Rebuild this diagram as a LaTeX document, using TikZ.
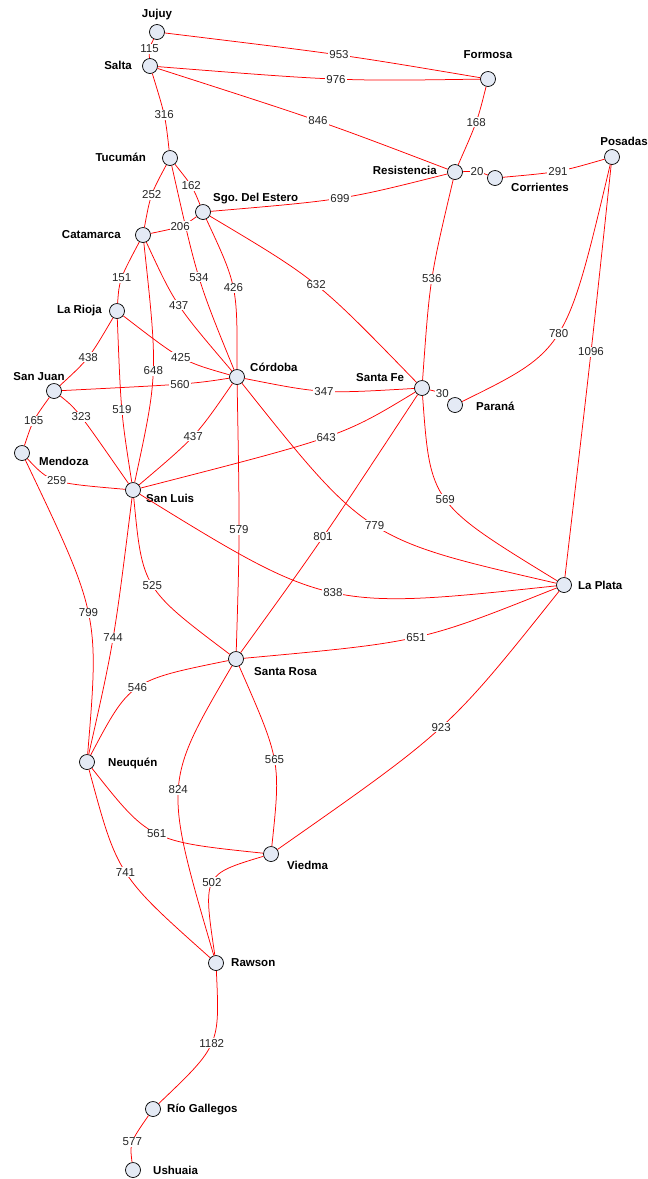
\documentclass[tikz,border=0pt]{standalone}
\usepackage{fontspec}
\setmainfont{Liberation Sans}
\usetikzlibrary{calc}
\definecolor{nodefill}{HTML}{E4EAF5}
\tikzset{
 city/.style={circle,draw=black,line width=0.7pt,fill=nodefill,minimum size=15pt,inner sep=0pt},
 cname/.style={font=\fontsize{11.5}{13}\selectfont\bfseries,inner sep=0pt},
 edge/.style={draw=red,line width=0.75pt},
 wl/.style={fill=white,inner sep=1pt,font=\fontsize{11.5}{13}\selectfont,text=black!85}
}
\newcommand{\roadedge}[4]{\draw[edge] (#1) .. controls ($1.33333*(#3)-0.166667*(#1)-0.166667*(#2)$) .. (#2) node[wl,pos=0.5]{#4};}
\frenchspacing
\begin{document}
\begin{tikzpicture}[x=1pt,y=-1pt]
\useasboundingbox[fill=white] (0,0) rectangle (648,1179);
% cities
\node[city] (jujuy) at (157,32) {};
\node[city] (salta) at (150,66) {};
\node[city] (formosa) at (488,79) {};
\node[city] (tucuman) at (170,158) {};
\node[city] (sgo) at (203,212) {};
\node[city] (catamarca) at (143,235) {};
\node[city] (rioja) at (117,311) {};
\node[city] (sanjuan) at (54,391) {};
\node[city] (cordoba) at (237,377) {};
\node[city] (mendoza) at (22,453) {};
\node[city] (sanluis) at (133,490) {};
\node[city] (resistencia) at (455,172) {};
\node[city] (corrientes) at (495,178) {};
\node[city] (posadas) at (612,157) {};
\node[city] (santafe) at (422,388) {};
\node[city] (parana) at (455,405) {};
\node[city] (laplata) at (564,585) {};
\node[city] (santarosa) at (236,659) {};
\node[city] (neuquen) at (87,762) {};
\node[city] (viedma) at (271,854) {};
\node[city] (rawson) at (216,963) {};
\node[city] (gallegos) at (153,1109) {};
\node[city] (ushuaia) at (133,1170) {};
% names
\node[cname] (jujuy-t) at (157,15) {Jujuy};
\node[cname,anchor=east] (salta-t) at (132,65) {Salta};
\node[cname] (formosa-t) at (488,55) {Formosa};
\node[cname,anchor=east] (tucuman-t) at (146,157) {Tucumán};
\node[cname,anchor=west] (sgo-t) at (213,199) {Sgo.\ Del Estero};
\node[cname,anchor=east] (catamarca-t) at (121,235) {Catamarca};
\node[cname,anchor=east] (rioja-t) at (102,311) {La Rioja};
\node[cname] (sanjuan-t) at (39,377) {San Juan};
\node[cname,anchor=west] (mendoza-t) at (39,461) {Mendoza};
\node[cname,anchor=west] (sanluis-t) at (146,498) {San Luis};
\node[cname,anchor=west] (cordoba-t) at (250,367) {Córdoba};
\node[cname,anchor=west] (santafe-t) at (356,378) {Santa Fe};
\node[cname,anchor=east] (resistencia-t) at (437,170) {Resistencia};
\node[cname,anchor=west] (corrientes-t) at (511,187) {Corrientes};
\node[cname] (posadas-t) at (624,141) {Posadas};
\node[cname,anchor=west] (parana-t) at (476,406) {Paraná};
\node[cname,anchor=west] (laplata-t) at (578,585) {La Plata};
\node[cname,anchor=west] (santarosa-t) at (254,672) {Santa Rosa};
\node[cname,anchor=west] (neuquen-t) at (108,763) {Neuquén};
\node[cname,anchor=west] (viedma-t) at (287,865) {Viedma};
\node[cname,anchor=west] (rawson-t) at (231,963) {Rawson};
\node[cname,anchor=west] (gallegos-t) at (167,1109) {Río Gallegos};
\node[cname,anchor=west] (ushuaia-t) at (153,1170) {Ushuaia};
% roads
\roadedge{jujuy}{formosa}{339,55}{953}
\roadedge{jujuy}{salta}{150,49}{115}
\roadedge{salta}{formosa}{336,79}{976}
\roadedge{salta}{resistencia}{318,121}{846}
\roadedge{salta}{tucuman}{164,115}{316}
\roadedge{formosa}{resistencia}{476,122}{168}
\roadedge{resistencia}{corrientes}{477,172}{20}
\roadedge{corrientes}{posadas}{558,171}{291}
\roadedge{resistencia}{sgo}{340,198}{699}
\roadedge{resistencia}{santafe}{432,279}{536}
\roadedge{posadas}{parana}{558,333}{780}
\roadedge{posadas}{laplata}{591,352}{1096}
\roadedge{tucuman}{catamarca}{152,195}{252}
\roadedge{tucuman}{sgo}{191,186}{162}
\roadedge{tucuman}{cordoba}{199,277}{534}
\roadedge{catamarca}{sgo}{180,226}{206}
\roadedge{sgo}{cordoba}{233,288}{426}
\roadedge{sgo}{santafe}{316,285}{632}
\roadedge{catamarca}{rioja}{122,278}{151}
\roadedge{catamarca}{cordoba}{179,305}{437}
\roadedge{catamarca}{sanluis}{153,371}{648}
\roadedge{rioja}{sanjuan}{88,357}{438}
\roadedge{rioja}{cordoba}{181,357}{425}
\roadedge{rioja}{sanluis}{122,410}{519}
\roadedge{sanjuan}{cordoba}{180,384}{560}
\roadedge{sanjuan}{mendoza}{34,421}{165}
\roadedge{sanjuan}{sanluis}{81,417}{323}
\roadedge{cordoba}{sanluis}{193,436}{437}
\roadedge{cordoba}{santafe}{324,391}{347}
\roadedge{santafe}{sanluis}{326,437}{643}
\roadedge{cordoba}{santarosa}{239,530}{579}
\roadedge{cordoba}{laplata}{375,525}{779}
\roadedge{santafe}{santarosa}{323,537}{801}
\roadedge{santafe}{laplata}{446,499}{569}
\roadedge{santafe}{parana}{442,394}{30}
\roadedge{mendoza}{sanluis}{57,480}{259}
\roadedge{mendoza}{neuquen}{88,613}{799}
\roadedge{sanluis}{neuquen}{113,638}{744}
\roadedge{sanluis}{santarosa}{153,585}{525}
\roadedge{sanluis}{laplata}{333,592}{838}
\roadedge{santarosa}{laplata}{416,637}{651}
\roadedge{laplata}{viedma}{441,727}{923}
\roadedge{santarosa}{neuquen}{138,688}{546}
\roadedge{santarosa}{viedma}{274,760}{565}
\roadedge{santarosa}{rawson}{179,790}{824}
\roadedge{neuquen}{viedma}{157,833}{561}
\roadedge{neuquen}{rawson}{126,872}{741}
\roadedge{viedma}{rawson}{213,883}{502}
\roadedge{rawson}{gallegos}{211,1043}{1182}
\roadedge{gallegos}{ushuaia}{133,1142}{577}
\end{tikzpicture}
\end{document}
